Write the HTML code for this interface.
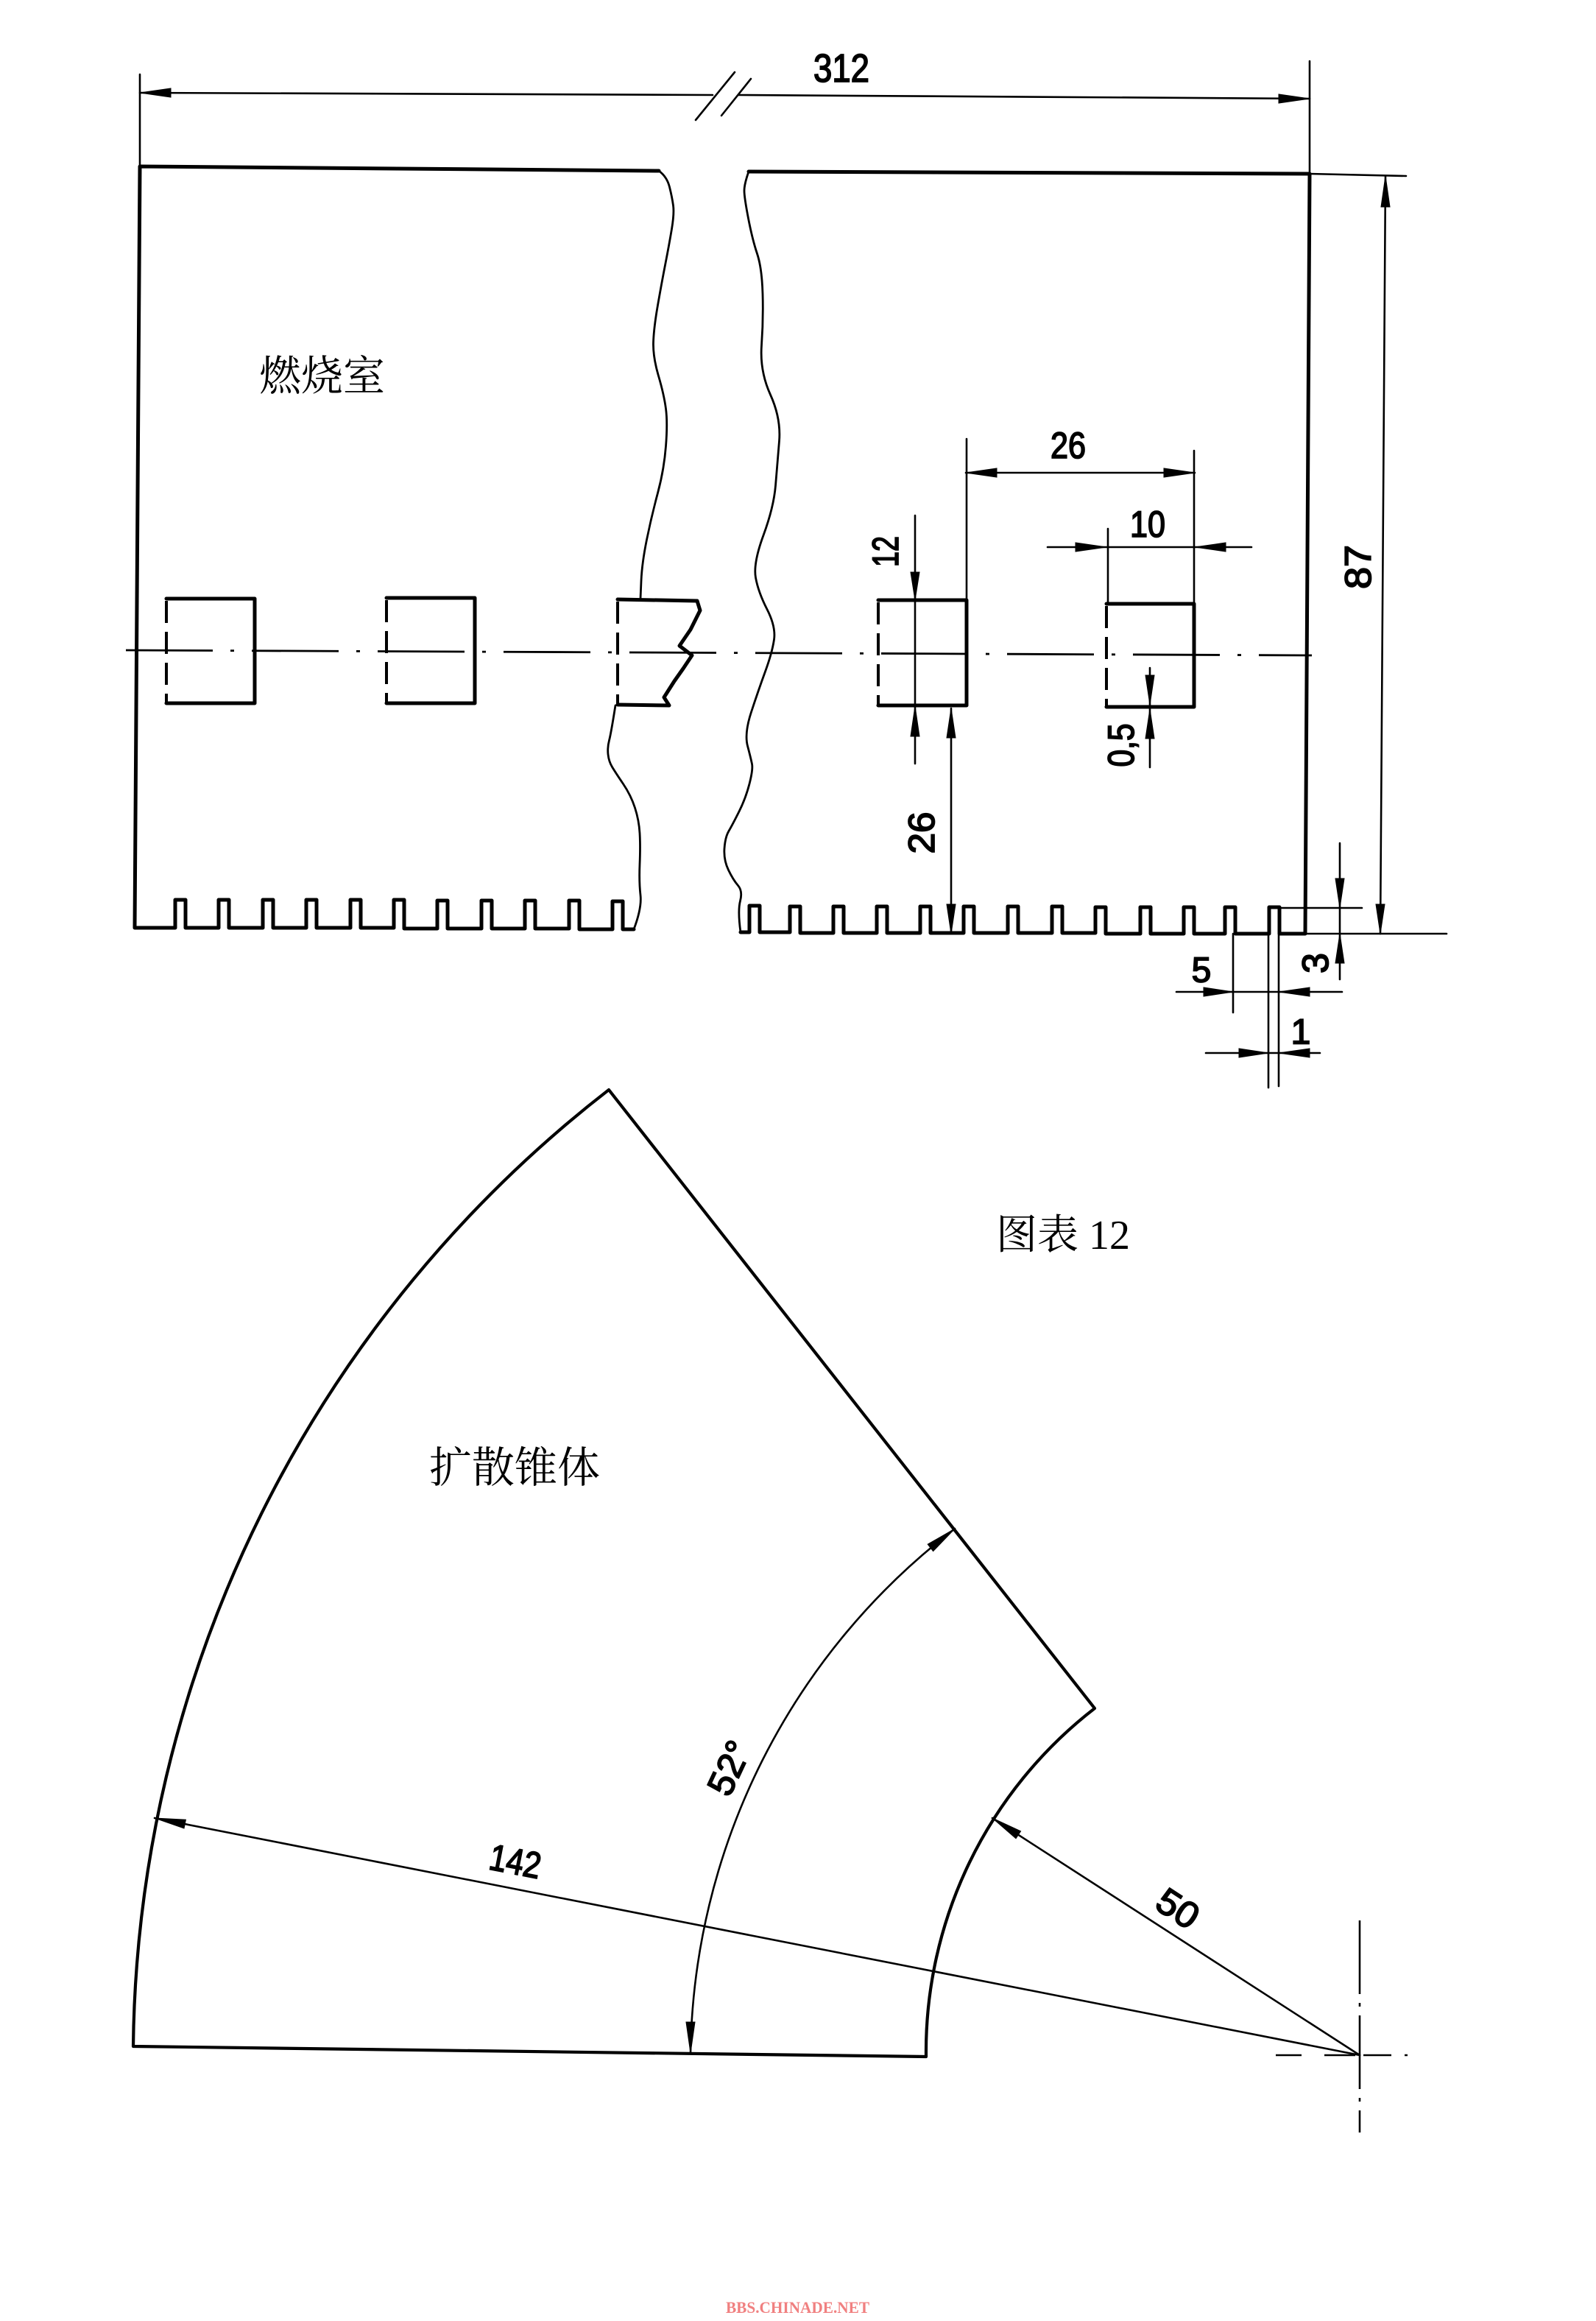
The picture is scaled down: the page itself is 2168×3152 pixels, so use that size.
<!DOCTYPE html>
<html><head><meta charset="utf-8"><style>
html,body{margin:0;padding:0;background:#fff;}
svg{display:block;}
.t{font-family:"Liberation Sans",sans-serif;fill:#000;stroke:#000;stroke-width:1.8;text-anchor:middle;dominant-baseline:central;}
.cj{font-family:"Liberation Serif","Noto Serif CJK SC",serif;fill:#000;}
</style></head><body>
<svg width="2168" height="3152" viewBox="0 0 2168 3152" xmlns="http://www.w3.org/2000/svg">
<rect width="2168" height="3152" fill="#fff"/>
<g fill="none" stroke="#000" stroke-linejoin="round" stroke-linecap="round">
<!-- thick outlines -->
<g stroke-width="5">
<path d="M895,232 L190,226 L183,1260 L238,1260 L238,1222 L252,1222 L252,1260 L297,1260 L297,1222 L311,1222 L311,1260 L357,1260 L357,1222 L371,1222 L371,1260 L416,1260 L416,1222 L430,1222 L430,1260 L476,1260 L476,1222 L490,1222 L490,1260 L535,1260 L535,1222 L549,1222 L549,1261 L594,1261 L594,1223 L608,1223 L608,1261 L654,1261 L654,1223 L668,1223 L668,1261 L713,1261 L713,1223 L727,1223 L727,1261 L773,1261 L773,1223 L787,1223 L787,1262 L832,1262 L832,1224 L846,1224 L846,1262 L861,1262"/>
<path d="M1017,233 L1779,236 L1773,1268 L1738,1268 L1738,1232 L1724,1232 L1724,1268 L1678,1268 L1678,1232 L1664,1232 L1664,1268 L1622,1268 L1622,1232 L1608,1232 L1608,1268 L1563,1268 L1563,1232 L1549,1232 L1549,1268 L1502,1268 L1502,1232 L1488,1232 L1488,1267 L1443,1267 L1443,1231 L1429,1231 L1429,1267 L1383,1267 L1383,1231 L1369,1231 L1369,1267 L1323,1267 L1323,1231 L1309,1231 L1309,1267 L1264,1267 L1264,1231 L1250,1231 L1250,1267 L1205,1267 L1205,1231 L1191,1231 L1191,1267 L1146,1267 L1146,1231 L1132,1231 L1132,1267 L1087,1267 L1087,1231 L1073,1231 L1073,1266 L1032,1266 L1032,1230 L1018,1230 L1018,1266 L1006,1266"/>
<!-- rects -->
<path d="M226,813 L346,813 L346,955 L226,955"/>
<path d="M525,812 L645,812 L645,955 L525,955"/>
<path d="M839,814 L947,816 L951,829 L938,855 L923,877 L940,890 L928,908 L916,925 L902,947 L909,958 L839,957"/>
<path d="M1193,815 L1313,815 L1313,958 L1193,958"/>
<path d="M1503,820 L1622,820 L1622,960 L1503,960"/>
</g>
<!-- dashed left sides -->
<g stroke-width="4" stroke-dasharray="30 12" stroke-linecap="butt">
<path d="M226,816 L226,955"/>
<path d="M525,815 L525,955"/>
<path d="M839,817 L839,957"/>
<path d="M1193,818 L1193,958"/>
<path d="M1503,823 L1503,960"/>
</g>
<!-- wavy break lines -->
<g stroke-width="2.8">
<path d="M895,232 Q906,240 909.5,254 Q913,268 914.5,279 Q916,290 912.5,311 Q909,332 904,357.5 Q899,383 893.5,414.5 Q888,446 887.5,465.5 Q887,485 894.5,510.5 Q902,536 904.5,555 Q907,574 904.5,606 Q902,638 893.5,669.5 Q885,701 878.5,733 Q872,765 871,789 L870,813"/>
<path d="M836,958 Q830,996 827.5,1005.5 Q825,1015 826,1024.5 Q827,1034 831.5,1041.5 Q836,1049 846.5,1064.5 Q857,1080 862.5,1097 Q868,1114 869,1131.5 Q870,1149 869,1173.5 Q868,1198 870,1215.5 Q872,1233 861,1262"/>
<path d="M1017,233 Q1011,250 1011,259 Q1011,268 1016.5,296.5 Q1022,325 1028.5,344.5 Q1035,364 1036,399 Q1037,434 1034.5,469 Q1032,504 1046.5,536 Q1061,568 1058.5,599 Q1056,630 1053.5,659.5 Q1051,689 1037,727 Q1023,765 1026.5,784.5 Q1030,804 1042,827.5 Q1054,851 1051.5,868.5 Q1049,886 1039.5,912 Q1030,938 1020.5,967 Q1011,996 1015.5,1013 Q1020,1030 1021.5,1037.5 Q1023,1045 1018,1064.5 Q1013,1084 1004,1102 Q995,1120 990,1128.5 Q985,1137 984,1152.5 Q983,1168 989.5,1181.5 Q996,1195 1002.5,1202.5 Q1009,1210 1005.5,1223.5 Q1002,1237 1006,1266"/>
</g>
<!-- centerline -->
<path d="M171,883 L1782,890" stroke-width="2.8" stroke-dasharray="118 24 5 24" stroke-linecap="butt"/>
<!-- dimension lines -->
<g stroke-width="2.6">
<path d="M190,101 L190,226"/>
<path d="M1779,83 L1779,236"/>
<path d="M190,126 L968,129"/>
<path d="M1003,129 L1779,134"/>
<path d="M945,163 L998,98"/>
<path d="M980,157 L1020,107"/>
<path d="M1779,236 L1910,239"/>
<path d="M1882,239 L1875,1268"/>
<path d="M1773,1268 L1965,1268"/>
<path d="M1738,1233 L1850,1233"/>
<path d="M1820,1145 L1820,1330"/>
<path d="M1675,1268 L1675,1375"/>
<path d="M1598,1347 L1823,1347"/>
<path d="M1723,1268 L1723,1477"/>
<path d="M1737,1268 L1737,1475"/>
<path d="M1638,1430 L1793,1430"/>
<path d="M1313,596 L1313,815"/>
<path d="M1622,612 L1622,820"/>
<path d="M1505,718 L1505,820"/>
<path d="M1312,642 L1623,642"/>
<path d="M1423,743 L1700,743"/>
<path d="M1243,700 L1243,1037"/>
<path d="M1292,962 L1292,1268"/>
<path d="M1562,907 L1562,1042"/>
</g>
<!-- sector -->
<path d="M181,2779 A1666,1666 0 0 1 827,1480 L1487,2320 A589,589 0 0 0 1258,2793 Z" stroke-width="4.2"/>
<g stroke-width="2.6">
<path d="M938,2789 A912,912 0 0 1 1297,2076"/>
<path d="M210,2469 L1847,2791"/>
<path d="M1348,2469 L1847,2791"/>
<path d="M1847,2608 L1847,2896" stroke-dasharray="100 12 5 12" stroke-linecap="butt"/>
<path d="M1733,2791 L1768,2791 M1799,2791 L1841,2791 M1852,2791 L1890,2791 M1908,2791 L1912,2791" stroke-linecap="butt"/>
</g>
</g>
<!-- arrowheads -->
<g fill="#000" stroke="#000" stroke-width="1">
<polygon points="190,126 232,120 232,132"/>
<polygon points="1779,134 1737,128 1737,140"/>
<polygon points="1882,239 1876,281 1888,281"/>
<polygon points="1875,1268 1869,1228 1881,1228"/>
<polygon points="1312,642 1354,636 1354,648"/>
<polygon points="1623,642 1581,636 1581,648"/>
<polygon points="1503,743 1461,737 1461,749"/>
<polygon points="1623,743 1665,737 1665,749"/>
<polygon points="1243,815 1237,777 1249,777"/>
<polygon points="1243,959 1237,1000 1249,1000"/>
<polygon points="1292,962 1286,1002 1298,1002"/>
<polygon points="1292,1268 1286,1228 1298,1228"/>
<polygon points="1562,957 1556,917 1568,917"/>
<polygon points="1562,963 1556,1003 1568,1003"/>
<polygon points="1820,1233 1814,1193 1826,1193"/>
<polygon points="1820,1268 1814,1308 1826,1308"/>
<polygon points="1675,1347 1635,1341 1635,1353"/>
<polygon points="1737,1347 1779,1341 1779,1353"/>
<polygon points="1723,1430 1683,1424 1683,1436"/>
<polygon points="1737,1430 1779,1424 1779,1436"/>
<polygon points="938,2788 932,2746 944,2746"/>
<polygon points="1297,2076 1267.6,2106.6 1260.2,2097.2"/>
<polygon points="210,2469 250,2483 252.4,2471.2"/>
<polygon points="1348,2469 1380,2496.8 1386.6,2486.8"/>
</g>
<!-- dimension text -->
<text class="t" x="1143" y="93" font-size="54" textLength="76" lengthAdjust="spacingAndGlyphs">312</text>
<text class="t" x="1451" y="605" font-size="50" textLength="48" lengthAdjust="spacingAndGlyphs">26</text>
<text class="t" x="1559" y="712" font-size="50" textLength="48" lengthAdjust="spacingAndGlyphs">10</text>
<text class="t" x="1203" y="749" font-size="50" textLength="42" lengthAdjust="spacingAndGlyphs" transform="rotate(-90 1203 749)">12</text>
<text class="t" x="1523" y="1012" font-size="50" textLength="59" lengthAdjust="spacingAndGlyphs" transform="rotate(-90 1523 1012)">0,5</text>
<text class="t" x="1252" y="1131" font-size="50" textLength="57" lengthAdjust="spacingAndGlyphs" transform="rotate(-90 1252 1131)">26</text>
<text class="t" x="1845" y="770" font-size="50" textLength="60" lengthAdjust="spacingAndGlyphs" transform="rotate(-90 1845 770)">87</text>
<text class="t" x="1787" y="1308" font-size="50" transform="rotate(-90 1787 1308)">3</text>
<text class="t" x="1632" y="1318" font-size="48">5</text>
<text class="t" x="1767" y="1402" font-size="48">1</text>
<text class="t" x="700" y="2528" font-size="50" textLength="70" lengthAdjust="spacingAndGlyphs" transform="rotate(11 700 2528)">142</text>
<text class="t" x="991" y="2401" font-size="50" textLength="75" lengthAdjust="spacingAndGlyphs" transform="rotate(-65 991 2401)">52°</text>
<text class="t" x="1600" y="2592" font-size="50" textLength="58" lengthAdjust="spacingAndGlyphs" transform="rotate(33 1600 2592)">50</text>
<!-- labels -->
<text class="cj" x="352" y="530" font-size="57">燃烧室</text>
<text class="cj" x="583" y="2013" font-size="58">扩散锥体</text>
<text class="cj" x="1353" y="1696" font-size="56" textLength="182" lengthAdjust="spacingAndGlyphs">图表 12</text>
<text x="986" y="3141" font-size="22" font-weight="bold" font-family="Liberation Serif, serif" fill="#f08080" textLength="195" lengthAdjust="spacingAndGlyphs">BBS.CHINADE.NET</text>
</svg>
</body></html>
